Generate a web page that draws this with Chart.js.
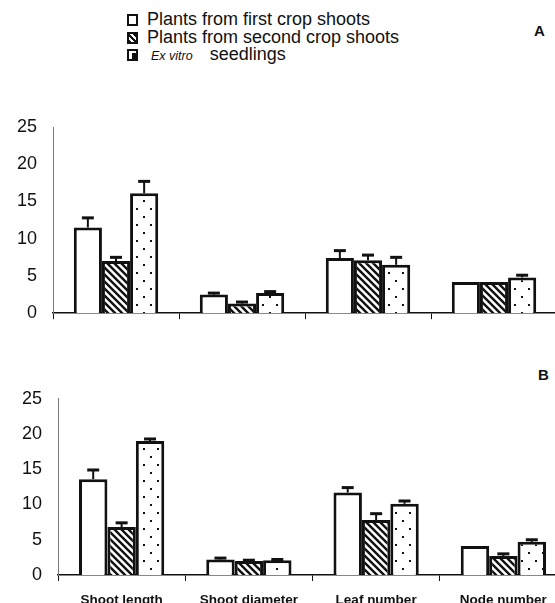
<!DOCTYPE html>
<html lang="en">
<head>
    <meta charset="UTF-8">
    <title>Shoot growth comparison</title>
    <script src="https://cdn.jsdelivr.net/npm/chart.js"></script>
    <style>
        body { margin: 0; width: 555px; height: 603px; overflow: hidden; background: #fff; position: relative; font-family: "Liberation Sans", Arial, sans-serif; color: #111; }
        canvas { position: absolute; left: 0; }
        #legend { position: absolute; left: 127px; top: 11px; font-size: 18px; line-height: 17.5px; }
        #legend div { height: 17.5px; white-space: nowrap; }
        #legend span.box { display: inline-block; width: 7px; height: 8px; border: 2px solid #111; margin-right: 9px; vertical-align: -1px; background: #fff; }
        #legend .hatch { background: repeating-linear-gradient(45deg, #111 0 2px, #fff 2px 4px) !important; }
        #legend .dots { background: #111 !important; box-shadow: inset 3px 2px 0 0 #fff; }
        #legend i { font-size: 12.5px; margin-left: 4px; margin-right: 17px; }
        .panel { position: absolute; font-weight: bold; font-size: 15px; }
    </style>
</head>
<body>
    <div id="legend">
        <div><span class="box"></span>Plants from first crop shoots</div>
        <div><span class="box hatch"></span>Plants from second crop shoots</div>
        <div><span class="box dots"></span><i>Ex vitro</i>seedlings</div>
    </div>
    <div class="panel" style="left:534px; top:22px;">A</div>
    <div class="panel" style="left:538px; top:366px;">B</div>
    <canvas id="chartA" width="557" height="232" style="top:100px;"></canvas>
    <canvas id="chartB" width="567" height="223" style="top:380px;"></canvas>

    <script>
// categories
const categories = ['Shoot length', 'Shoot diameter', 'Leaf number', 'Node number'];

// panel A: bar values and top of error bar
const aFirst = [11.5, 2.5, 7.4, 4.2];
const aFirstErr = [12.8, 2.7, 8.4, 4.2];
const aSecond = [7.0, 1.3, 7.1, 4.2];
const aSecondErr = [7.5, 1.5, 7.8, 4.2];
const aThird = [16.1, 2.7, 6.5, 4.8];
const aThirdErr = [17.7, 2.9, 7.5, 5.1];

// panel B
const bFirst = [13.6, 2.2, 11.7, 4.1];
const bFirstErr = [14.9, 2.4, 12.4, 4.1];
const bSecond = [6.8, 2.0, 7.8, 2.7];
const bSecondErr = [7.4, 2.1, 8.7, 3.0];
const bThird = [19.0, 2.1, 10.1, 4.7];
const bThirdErr = [19.3, 2.2, 10.5, 5.0];

const yTicks = [0, 5, 10, 15, 20, 25];

// fill patterns
function makeHatch() {
    const c = document.createElement('canvas');
    c.width = 7; c.height = 7;
    const g = c.getContext('2d');
    g.fillStyle = '#fff';
    g.fillRect(0, 0, 7, 7);
    g.strokeStyle = '#111';
    g.lineWidth = 2.4;
    g.beginPath();
    g.moveTo(-1, -1); g.lineTo(8, 8);
    g.moveTo(-8, -1); g.lineTo(1, 8);
    g.moveTo(6, -1); g.lineTo(15, 8);
    g.stroke();
    return g.createPattern(c, 'repeat');
}
function makeDots() {
    const c = document.createElement('canvas');
    c.width = 14; c.height = 16;
    const g = c.getContext('2d');
    g.fillStyle = '#fff';
    g.fillRect(0, 0, 14, 16);
    g.fillStyle = '#111';
    g.fillRect(3, 4, 2, 2);
    g.fillRect(10, 12, 2, 2);
    return g.createPattern(c, 'repeat');
}
const hatch = makeHatch();
const dots = makeDots();

// draws the error bars from dataset.errTop
const errorBars = {
    id: 'errorBars',
    afterDatasetsDraw(chart) {
        const ctx = chart.ctx;
        const y = chart.scales.y;
        ctx.save();
        ctx.strokeStyle = '#111';
        chart.data.datasets.forEach((ds, di) => {
            const meta = chart.getDatasetMeta(di);
            meta.data.forEach((bar, i) => {
                const top = ds.errTop[i];
                if (top <= ds.data[i]) return;
                const yt = y.getPixelForValue(top);
                ctx.lineWidth = 2;
                ctx.beginPath();
                ctx.moveTo(bar.x, bar.y);
                ctx.lineTo(bar.x, yt);
                ctx.stroke();
                ctx.lineWidth = 3;
                ctx.beginPath();
                ctx.moveTo(bar.x - 6, yt);
                ctx.lineTo(bar.x + 6, yt);
                ctx.stroke();
            });
        });
        ctx.restore();
    }
};

function dataset(values, err, fill) {
    return {
        data: values,
        errTop: err,
        backgroundColor: fill,
        borderColor: '#111',
        borderWidth: 3,
        categoryPercentage: 0.67,
        barPercentage: 1.0,
    };
}

function makeChart(id, sets, axisWidth, xHeight, padTop, showLabels) {
    return new Chart(document.getElementById(id), {
        type: 'bar',
        data: { labels: categories, datasets: sets },
        plugins: [errorBars],
        options: {
            responsive: false,
            animation: false,
            layout: { padding: { top: padTop, right: 0, left: 0, bottom: 0 } },
            plugins: { legend: { display: false }, tooltip: { enabled: false } },
            scales: {
                x: {
                    grid: { display: true, drawOnChartArea: false, drawTicks: true, tickLength: 6, color: '#111', lineWidth: 1 },
                    border: { color: '#111', width: 1.5 },
                    ticks: {
                        display: showLabels,
                        color: '#111',
                        font: { family: 'Liberation Sans', size: 13.5, weight: 'bold' },
                        padding: 11,
                        maxRotation: 0,
                    },
                    afterFit(scale) { scale.height = xHeight; },
                },
                y: {
                    min: 0,
                    max: 25,
                    afterBuildTicks(scale) { scale.ticks = yTicks.map(v => ({ value: v })); },
                    grid: { display: false },
                    border: { color: '#777', width: 1 },
                    ticks: {
                        color: '#111',
                        padding: 8,
                        font: { family: 'Liberation Sans', size: 18 },
                    },
                    afterFit(scale) { scale.width = axisWidth; },
                },
            },
        },
    });
}

makeChart('chartA', [
    dataset(aFirst, aFirstErr, '#fff'),
    dataset(aSecond, aSecondErr, hatch),
    dataset(aThird, aThirdErr, dots),
], 53, 13, 27, false);

makeChart('chartB', [
    dataset(bFirst, bFirstErr, '#fff'),
    dataset(bSecond, bSecondErr, hatch),
    dataset(bThird, bThirdErr, dots),
], 58, 28, 14, true);
    </script>
</body>
</html>
